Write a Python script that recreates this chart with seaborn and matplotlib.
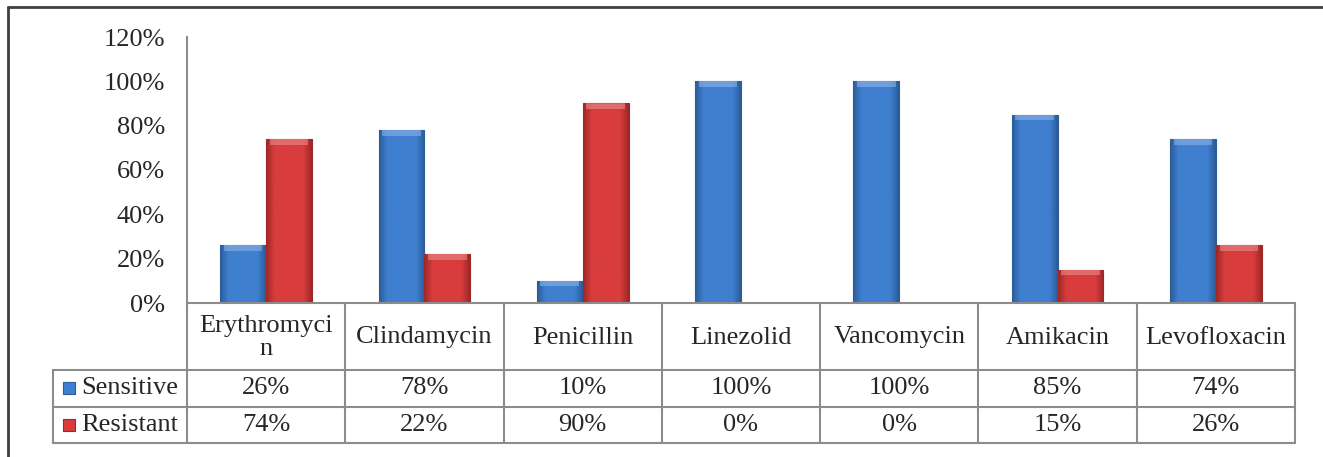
import matplotlib
matplotlib.use("Agg")
import matplotlib.pyplot as plt
import matplotlib.transforms as mtransforms
from matplotlib.lines import Line2D
from matplotlib.patches import Rectangle
from matplotlib.colors import to_rgb
import numpy as np
import pandas as pd
import seaborn as sns

# Antibiotic susceptibility (fraction of isolates)
drugs = ["Erythromycin", "Clindamycin", "Penicillin", "Linezolid",
         "Vancomycin", "Amikacin", "Levofloxacin"]
drug_labels = ["Erythromyci\nn", "Clindamycin", "Penicillin", "Linezolid",
               "Vancomycin", "Amikacin", "Levofloxacin"]
sensitive = [0.26, 0.78, 0.10, 1.00, 1.00, 0.85, 0.74]
resistant = [0.74, 0.22, 0.90, 0.00, 0.00, 0.15, 0.26]
series = ["Sensitive", "Resistant"]
y_ticks = [0.0, 0.2, 0.4, 0.6, 0.8, 1.0, 1.2]

colors = {"Sensitive": "#3F7FCF", "Resistant": "#D83C3C"}
edges = {"Sensitive": "#2C5C99", "Resistant": "#9E2727"}

df = pd.DataFrame({
    "drug": drugs * 2,
    "series": ["Sensitive"] * len(drugs) + ["Resistant"] * len(drugs),
    "value": sensitive + resistant,
})

sns.set_style("white")
plt.rcParams["font.family"] = ["Liberation Serif", "DejaVu Serif"]
FS = 19

W, H = 1323, 457
fig = plt.figure(figsize=(W / 100, H / 100), dpi=100)
ax = fig.add_axes([187 / W, 1 - 303 / H, (1295 - 187) / W, (303 - 37) / H])

sns.barplot(data=df, x="drug", y="value", hue="series", order=drugs,
            hue_order=series, palette=colors, width=0.58, gap=0,
            saturation=1, legend=False, ax=ax)

ax.set_xlim(-0.5, len(drugs) - 0.5)
ax.set_ylim(0, 1.2)


def shade(base, dark, n=64):
    """Horizontal bevel gradient: dark rims, lighter body."""
    b = np.array(to_rgb(base))
    d = np.array(to_rgb(dark))
    t = np.linspace(0, 1, n)
    w = np.clip(np.minimum(t, 1 - t) / 0.18, 0, 1)  # 0 at rims, 1 inside
    row = d[None, :] * (1 - w[:, None]) + b[None, :] * w[:, None]
    return row[None, :, :]


# bevelled look for each bar: gradient fill plus a lighter top cap
for cont, name in zip(ax.containers, series):
    for p in cont:
        h = p.get_height()
        if h <= 0:
            p.set_visible(False)
            continue
        x, y, w = p.get_x(), p.get_y(), p.get_width()
        p.set_edgecolor(edges[name])
        p.set_linewidth(0.8)
        img = ax.imshow(shade(colors[name], edges[name]), extent=[x, x + w, y, y + h],
                        aspect="auto", zorder=p.get_zorder() + 0.1,
                        interpolation="bilinear")
        img.set_clip_path(p)
        cap = min(0.025, h * 0.3)
        light = tuple(min(1, c * 0.55 + 0.45) for c in to_rgb(colors[name]))
        ax.add_patch(Rectangle((x + w * 0.08, y + h - cap), w * 0.84, cap,
                               facecolor=light, edgecolor="none", alpha=0.55,
                               zorder=p.get_zorder() + 0.2))

ax.set_xlim(-0.5, len(drugs) - 0.5)
ax.set_ylim(0, 1.2)
ax.set_yticks(y_ticks)
ax.set_yticklabels([f"{int(round(t * 100))}%" for t in y_ticks], fontsize=FS)
ax.tick_params(axis="y", length=0, pad=16)
ax.set_xticks([])
ax.set_xlabel("")
ax.set_ylabel("")
for s in ["top", "right", "bottom"]:
    ax.spines[s].set_visible(False)
ax.spines["left"].set_color("#8C8C8C")
ax.spines["left"].set_linewidth(1.5)

# data table under the plot
grid_c = "#8C8C8C"
tr = mtransforms.blended_transform_factory(ax.transData, fig.transFigure)
fy = lambda py: 1 - py / H
y_axis, y_r1, y_r2, y_r3 = 303, 370, 407, 443
x0, x1 = -0.5, len(drugs) - 0.5
legend_left = 53 / W


def hline(py, start_fig=None):
    fig.add_artist(Line2D([x0, x1], [fy(py)] * 2, transform=tr,
                          color=grid_c, lw=1.5))
    if start_fig is not None:
        fig.add_artist(Line2D([start_fig, 187 / W], [fy(py)] * 2,
                              transform=fig.transFigure, color=grid_c, lw=1.5))


hline(y_axis)
for py in (y_r1, y_r2, y_r3):
    hline(py, start_fig=legend_left)

for i in range(len(drugs) + 1):
    xb = i - 0.5
    fig.add_artist(Line2D([xb, xb], [fy(y_axis), fy(y_r3)], transform=tr,
                          color=grid_c, lw=1.5))
fig.add_artist(Line2D([legend_left] * 2, [fy(y_r1), fy(y_r3)],
                      transform=fig.transFigure, color=grid_c, lw=1.5))

for i, lab in enumerate(drug_labels):
    fig.text(i, fy((y_axis + y_r1) / 2 + 1), lab, transform=tr, ha="center",
             va="center", fontsize=FS, linespacing=1.05)
for i, (sv, rv) in enumerate(zip(sensitive, resistant)):
    fig.text(i, fy((y_r1 + y_r2) / 2), f"{int(round(sv * 100))}%", transform=tr,
             ha="center", va="center", fontsize=FS)
    fig.text(i, fy((y_r2 + y_r3) / 2), f"{int(round(rv * 100))}%", transform=tr,
             ha="center", va="center", fontsize=FS)

# legend keys inside the table's first column
for name, (ya, yb) in zip(series, [(y_r1, y_r2), (y_r2, y_r3)]):
    yc = fy((ya + yb) / 2)
    fig.add_artist(Rectangle((63 / W, yc - 5.5 / H), 12 / W, 12 / H,
                             transform=fig.transFigure,
                             facecolor=colors[name], edgecolor=edges[name], lw=0.8))
    fig.text(81 / W, yc, name, ha="left", va="center", fontsize=FS)

# outer chart frame
fig.add_artist(Line2D([8 / W, 8 / W], [0, fy(7)], transform=fig.transFigure,
                      color="#3F3F3F", lw=2))
fig.add_artist(Line2D([8 / W, 1], [fy(7), fy(7)], transform=fig.transFigure,
                      color="#3F3F3F", lw=2))

fig.savefig("out.png", dpi=100, facecolor="white")
